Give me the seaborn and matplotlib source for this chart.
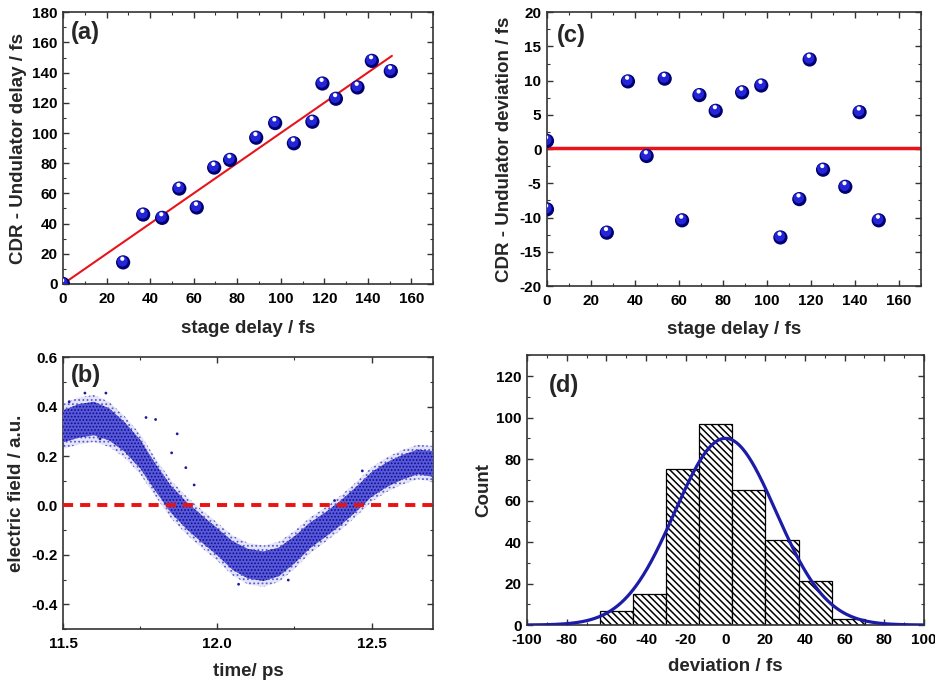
import numpy as np
import pandas as pd
import seaborn as sns
import matplotlib.pyplot as plt
from matplotlib.ticker import MultipleLocator, FormatStrFormatter
from matplotlib.transforms import ScaledTranslation

# (a) CDR - undulator delay vs stage delay
stage_delay = [0.0, 27.6, 36.8, 45.5, 53.4, 61.4, 69.4, 76.7, 88.7, 97.4,
               106.0, 114.5, 119.1, 125.3, 135.2, 141.8, 150.5]
cdr_delay = [0.0, 14.3, 46.0, 43.8, 63.2, 50.7, 77.1, 82.2, 96.9, 106.6,
             93.2, 107.5, 132.8, 122.7, 130.2, 147.8, 141.0]
fit_x = [0.0, 151.0]
fit_y = [0.0, 151.1]

# (c) deviation from the fit
dev_delay = [0.0, 0.0, 27.2, 36.8, 45.3, 53.5, 61.4, 69.3, 76.7, 88.7,
             97.4, 106.1, 114.7, 119.4, 125.5, 135.6, 142.1, 150.8]
dev_value = [1.2, -8.8, -12.2, 9.9, -1.0, 10.3, -10.4, 7.9, 5.6, 8.3,
             9.3, -12.9, -7.3, 13.1, -3.0, -5.5, 5.4, -10.4]
dev_line_x = [0.0, 170.0]
dev_line_y = [0.15, 0.15]

# (b) electric field trace: centre of the cloud and its half width
time_ps = [11.50, 11.55, 11.60, 11.65, 11.70, 11.75, 11.80, 11.85, 11.90,
           11.95, 12.00, 12.05, 12.10, 12.15, 12.20, 12.25, 12.30, 12.35,
           12.40, 12.45, 12.50, 12.55, 12.60, 12.65, 12.70]
field_center = [0.320, 0.342, 0.352, 0.328, 0.277, 0.208, 0.113, 0.025, -0.040,
                -0.095, -0.147, -0.203, -0.236, -0.246, -0.228, -0.180, -0.122,
                -0.078, -0.030, 0.025, 0.085, 0.125, 0.155, 0.176, 0.168]
field_halfwidth = [0.065, 0.068, 0.068, 0.065, 0.060, 0.058, 0.055, 0.055, 0.055,
                   0.055, 0.055, 0.058, 0.060, 0.060, 0.058, 0.055, 0.052, 0.050,
                   0.050, 0.050, 0.050, 0.050, 0.050, 0.050, 0.052]
stray_t = [11.571, 11.639, 11.769, 11.800, 11.852, 11.898, 11.925, 12.069, 12.230,
           11.52, 11.62, 11.87, 12.38, 12.47]
stray_v = [0.455, 0.455, 0.356, 0.348, 0.213, 0.153, 0.083, -0.319, -0.302,
           0.42, 0.27, 0.29, 0.02, 0.14]

# (d) histogram of deviations + gaussian fit
bin_edges = [-63.4, -46.7, -30.0, -13.3, 3.4, 20.1, 36.8, 53.5, 70.2]
bin_counts = [7, 15, 75, 97, 65, 41, 21, 3]
gauss_amp, gauss_mu, gauss_sigma = 90.0, 0.0, 25.5

sns.set_style('ticks')
plt.rcParams['font.family'] = ['Liberation Sans', 'DejaVu Sans']
plt.rcParams['font.weight'] = 'bold'
plt.rcParams['axes.labelweight'] = 'bold'
plt.rcParams['axes.unicode_minus'] = False
plt.rcParams['hatch.linewidth'] = 0.8
for ax_ in ['xtick', 'ytick']:
    plt.rcParams[f'{ax_}.direction'] = 'in'
    plt.rcParams[f'{ax_}.major.size'] = 4
    plt.rcParams[f'{ax_}.minor.size'] = 2.5
    plt.rcParams[f'{ax_}.major.width'] = 1.0
    plt.rcParams[f'{ax_}.minor.width'] = 0.8
    plt.rcParams[f'{ax_}.labelsize'] = 11
    plt.rcParams[f'{ax_}.color'] = '#333333'
    plt.rcParams[f'{ax_}.labelcolor'] = 'black'
plt.rcParams['xtick.major.pad'] = 5.5
plt.rcParams['ytick.major.pad'] = 4
plt.rcParams['xtick.top'] = True
plt.rcParams['ytick.right'] = True
plt.rcParams['axes.edgecolor'] = '#333333'
plt.rcParams['axes.linewidth'] = 1.2

fig = plt.figure(figsize=(9.35, 6.81), dpi=100)
ax_a = fig.add_axes([0.0674, 0.583, 0.396, 0.399])
ax_c = fig.add_axes([0.585, 0.580, 0.400, 0.402])
ax_b = fig.add_axes([0.0674, 0.0764, 0.396, 0.399])
ax_d = fig.add_axes([0.5636, 0.0822, 0.4246, 0.396])


def spheres(ax, x, y):
    # shaded blue balls: dark body, lighter core, white highlight
    sns.scatterplot(x=x, y=y, ax=ax, s=105, color='#000070', edgecolor='none',
                    zorder=3, legend=False)
    off1 = ax.transData + ScaledTranslation(-0.5/72, 0.8/72, fig.dpi_scale_trans)
    ax.scatter(x, y, s=58, color='#2424d8', edgecolor='none', zorder=4, transform=off1)
    off2 = ax.transData + ScaledTranslation(-0.6/72, 2.6/72, fig.dpi_scale_trans)
    ax.scatter(x, y, s=9, color='white', edgecolor='none', zorder=5, transform=off2)


def style(ax, xlabel, ylabel, xlab_y, ylab_x, tag, tag_pos):
    ax.set_xlabel(xlabel, fontsize=13.5, fontweight='bold')
    ax.set_ylabel(ylabel, fontsize=13.5, fontweight='bold')
    ax.xaxis.set_label_coords(0.5, xlab_y)
    ax.yaxis.set_label_coords(ylab_x, 0.5)
    ax.text(tag_pos[0], tag_pos[1], tag, transform=ax.transAxes, fontsize=17,
            fontweight='bold', va='center', ha='left')
    for lab in ax.get_xticklabels() + ax.get_yticklabels():
        lab.set_fontweight('bold')


# (a)
sns.lineplot(x=fit_x, y=fit_y, ax=ax_a, color='#e8141c', linewidth=1.5, zorder=2)
spheres(ax_a, stage_delay, cdr_delay)
ax_a.set_xlim(0, 170)
ax_a.set_ylim(0, 180)
ax_a.xaxis.set_major_locator(MultipleLocator(20))
ax_a.xaxis.set_minor_locator(MultipleLocator(10))
ax_a.yaxis.set_major_locator(MultipleLocator(20))
ax_a.yaxis.set_minor_locator(MultipleLocator(10))
style(ax_a, 'stage delay / fs', 'CDR - Undulator delay / fs', -0.132, -0.097, '(a)', (0.02, 0.926))

# (c)
sns.lineplot(x=dev_line_x, y=dev_line_y, ax=ax_c, color='#e8141c', linewidth=2.5, zorder=2)
spheres(ax_c, dev_delay, dev_value)
ax_c.set_xlim(0, 170)
ax_c.set_ylim(-20, 20)
ax_c.xaxis.set_major_locator(MultipleLocator(20))
ax_c.xaxis.set_minor_locator(MultipleLocator(10))
ax_c.yaxis.set_major_locator(MultipleLocator(5))
ax_c.yaxis.set_minor_locator(MultipleLocator(2.5))
style(ax_c, 'stage delay / fs', 'CDR - Undulator deviation / fs', -0.128, -0.091, '(c)', (0.027, 0.916))

# (b)
tb = pd.DataFrame({'t': time_ps, 'c': field_center, 'w': field_halfwidth})
ax_b.fill_between(tb['t'], tb['c'] - 1.4 * tb['w'], tb['c'] + 1.4 * tb['w'],
                  facecolor='#e4e4f8', hatch='....', edgecolor='#5a5acc', linewidth=0, zorder=2)
ax_b.fill_between(tb['t'], tb['c'] - tb['w'], tb['c'] + tb['w'],
                  facecolor='#5858da', hatch='.....', edgecolor='#0c0c88', linewidth=0, zorder=3)
sns.scatterplot(x=stray_t, y=stray_v, ax=ax_b, s=4, color='#1a1aa0', edgecolor='none',
                zorder=3, legend=False)
ax_b.axhline(0, color='#ee1111', linewidth=2.8, linestyle=(0, (2.6, 1.8)), zorder=4)
ax_b.set_xlim(11.5, 12.7)
ax_b.set_ylim(-0.5, 0.6)
ax_b.xaxis.set_major_locator(MultipleLocator(0.5))
ax_b.xaxis.set_minor_locator(MultipleLocator(0.25))
ax_b.yaxis.set_major_locator(MultipleLocator(0.2))
ax_b.yaxis.set_minor_locator(MultipleLocator(0.1))
ax_b.xaxis.set_major_formatter(FormatStrFormatter('%.1f'))
ax_b.yaxis.set_major_formatter(FormatStrFormatter('%.1f'))
style(ax_b, 'time/ ps', 'electric field / a.u.', -0.125, -0.103, '(b)', (0.02, 0.934))

# (d)
plt.rcParams['hatch.linewidth'] = 1.1
centers = [(bin_edges[i] + bin_edges[i + 1]) / 2 for i in range(len(bin_counts))]
sns.histplot(x=centers, weights=bin_counts, bins=bin_edges, ax=ax_d, stat='count',
             color='white', edgecolor='black', linewidth=0.9, alpha=1.0, zorder=2)
for p in ax_d.patches:
    p.set_hatch('\\\\\\\\\\')
gx = np.linspace(-100, 100, 400)
gy = gauss_amp * np.exp(-(gx - gauss_mu) ** 2 / (2 * gauss_sigma ** 2))
sns.lineplot(x=gx, y=gy, ax=ax_d, color='#1c1ca8', linewidth=2.3, zorder=3)
ax_d.set_xlim(-100, 100)
ax_d.set_ylim(0, 130)
ax_d.xaxis.set_major_locator(MultipleLocator(20))
ax_d.xaxis.set_minor_locator(MultipleLocator(10))
ax_d.yaxis.set_major_locator(MultipleLocator(20))
ax_d.yaxis.set_minor_locator(MultipleLocator(10))
style(ax_d, 'deviation / fs', 'Count', -0.122, -0.088, '(d)', (0.055, 0.889))

fig.savefig('out.png', dpi=100)
